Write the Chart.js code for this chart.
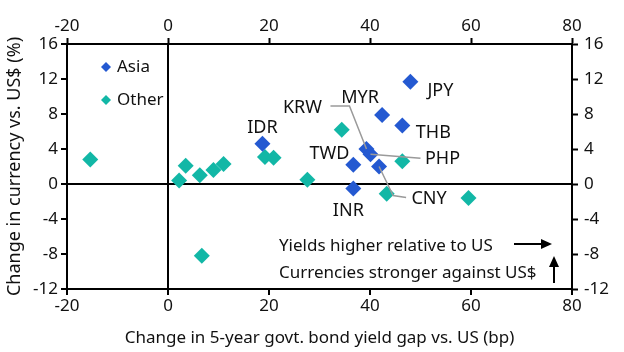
<!DOCTYPE html>
<html>
<head>
<meta charset="utf-8">
<script src="https://cdn.jsdelivr.net/npm/chart.js@4"></script>
<style>
  html, body { margin: 0; padding: 0; background: #fff; }
  #wrap { width: 624px; height: 352px; }
</style>
</head>
<body>
<div id="wrap"><canvas id="chart"></canvas></div>
<script>
// Asia: currencies with labels
let asiaNames = ['JPY', 'MYR', 'THB', 'IDR', 'KRW', 'PHP', 'TWD', 'CNY', 'INR'];
let asiaX = [48.0, 42.4, 46.4, 18.7, 39.3, 40.1, 36.7, 41.8, 36.7];
let asiaY = [11.7, 7.9, 6.7, 4.6, 4.0, 3.4, 2.2, 2.0, -0.5];

// Other (unlabelled)
let otherX = [-15.4, 2.2, 3.5, 6.3, 6.7, 9.0, 11.0, 19.2, 20.9, 27.6, 34.4, 43.3, 46.4, 59.5];
let otherY = [2.8, 0.4, 2.1, 1.0, -8.2, 1.6, 2.3, 3.1, 3.0, 0.5, 6.2, -1.1, 2.6, -1.6];

let xTicks = [-20, 0, 20, 40, 60, 80];
let yTicks = [-12, -8, -4, 0, 4, 8, 12, 16];

let blue = '#2459d1';
let teal = '#12b7a6';
let font = '"Noto Sans", "Open Sans", sans-serif';

// label offsets in pixels from the point, plus optional leader lines
let labelPos = {
  JPY: { dx: 30, dy: 9 },
  MYR: { dx: -22, dy: -17 },
  THB: { dx: 31, dy: 7 },
  IDR: { dx: 0, dy: -16 },
  TWD: { dx: -24, dy: -11 },
  INR: { dx: -5, dy: 22 },
  KRW: { dx: -64, dy: -41, line: [[-17, -43], [-36, -43]] },
  PHP: { dx: 72, dy: 5, line: [[50, 4]] },
  CNY: { dx: 50, dy: 32, line: [[14, 29], [27, 31]] }
};

let asiaData = asiaX.map((x, i) => ({ x: x, y: asiaY[i] }));
let otherData = otherX.map((x, i) => ({ x: x, y: otherY[i] }));

let labelsPlugin = {
  id: 'labelsPlugin',
  afterDatasetsDraw(chart) {
    let ctx = chart.ctx;
    let xs = chart.scales.x, ys = chart.scales.y;
    ctx.save();
    ctx.font = '18px ' + font;
    ctx.fillStyle = '#111';
    ctx.textAlign = 'center';
    ctx.textBaseline = 'middle';
    asiaNames.forEach((name, i) => {
      let px = xs.getPixelForValue(asiaX[i]);
      let py = ys.getPixelForValue(asiaY[i]);
      let p = labelPos[name];
      if (p.line) {
        ctx.strokeStyle = '#9a9a9a';
        ctx.lineWidth = 1.5;
        ctx.beginPath();
        ctx.moveTo(px, py);
        p.line.forEach(pt => ctx.lineTo(px + pt[0], py + pt[1]));
        ctx.stroke();
      }
      ctx.fillText(name, px + p.dx, py + p.dy);
    });

    // legend
    let a = chart.chartArea;
    ctx.font = '17px ' + font;
    let items = [['Asia', blue], ['Other', teal]];
    items.forEach((it, i) => {
      let lx = a.left + 39, ly = a.top + 23 + i * 33;
      ctx.fillStyle = it[1];
      ctx.beginPath();
      ctx.moveTo(lx, ly - 5);
      ctx.lineTo(lx + 5, ly);
      ctx.lineTo(lx, ly + 5);
      ctx.lineTo(lx - 5, ly);
      ctx.closePath();
      ctx.fill();
      ctx.fillStyle = '#111';
      ctx.textAlign = 'left';
      ctx.fillText(it[0], lx + 11, ly);
    });

    // direction notes
    ctx.font = '17px ' + font;
    ctx.textAlign = 'left';
    ctx.fillText('Yields higher relative to US', a.left + 212, a.top + 202);
    ctx.fillText('Currencies stronger against US$', a.left + 212, a.top + 229);
    ctx.strokeStyle = '#000';
    ctx.fillStyle = '#000';
    ctx.lineWidth = 2;
    let ax = a.left + 447, ay = a.top + 200;
    ctx.beginPath();
    ctx.moveTo(ax, ay);
    ctx.lineTo(ax + 28, ay);
    ctx.stroke();
    ctx.beginPath();
    ctx.moveTo(ax + 38, ay);
    ctx.lineTo(ax + 27, ay - 5);
    ctx.lineTo(ax + 27, ay + 5);
    ctx.closePath();
    ctx.fill();
    let ux = a.left + 487, uy = a.top + 239;
    ctx.beginPath();
    ctx.moveTo(ux, uy);
    ctx.lineTo(ux, uy - 17);
    ctx.stroke();
    ctx.beginPath();
    ctx.moveTo(ux, uy - 27);
    ctx.lineTo(ux - 5, uy - 16);
    ctx.lineTo(ux + 5, uy - 16);
    ctx.closePath();
    ctx.fill();
    ctx.restore();
  }
};

function fixed(size) {
  return function (scale) {
    if (scale.isHorizontal()) scale.height = size; else scale.width = size;
  };
}

let tickFont = { family: font, size: 17 };
let axisBorder = { display: true, color: '#000', width: 2 };
let zeroGrid = {
  color: c => (c.tick && c.tick.value === 0 ? '#000' : 'rgba(0,0,0,0)'),
  lineWidth: 2,
  tickColor: '#000',
  tickWidth: 2,
  tickLength: 6
};
let sideGrid = { drawOnChartArea: false, tickColor: '#000', tickWidth: 2, tickLength: 6 };

new Chart(document.getElementById('chart'), {
  type: 'scatter',
  data: {
    datasets: [
      { label: 'Asia', data: asiaData, backgroundColor: blue, borderColor: blue,
        pointStyle: 'rectRot', pointRadius: 8, pointHoverRadius: 8, borderWidth: 0 },
      { label: 'Other', data: otherData, backgroundColor: teal, borderColor: teal,
        pointStyle: 'rectRot', pointRadius: 8, pointHoverRadius: 8, borderWidth: 0 }
    ]
  },
  options: {
    responsive: true,
    maintainAspectRatio: false,
    animation: false,
    layout: { padding: 0 },
    plugins: { legend: { display: false }, tooltip: { enabled: false } },
    scales: {
      x: {
        type: 'linear', position: 'bottom', min: -20, max: 80,
        afterBuildTicks: s => { s.ticks = xTicks.map(v => ({ value: v })); },
        afterFit: fixed(63),
        ticks: { font: tickFont, color: '#111', padding: 1 },
        grid: zeroGrid, border: axisBorder,
        title: { display: true, text: 'Change in 5-year govt. bond yield gap vs. US (bp)',
                 font: { family: font, size: 17 }, color: '#111', padding: { top: 0 } }
      },
      x2: {
        type: 'linear', position: 'top', min: -20, max: 80,
        afterBuildTicks: s => { s.ticks = xTicks.map(v => ({ value: v })); },
        afterFit: fixed(44),
        ticks: { font: tickFont, color: '#111', padding: 2 },
        grid: sideGrid, border: axisBorder
      },
      y: {
        type: 'linear', position: 'left', min: -12, max: 16,
        afterBuildTicks: s => { s.ticks = yTicks.map(v => ({ value: v })); },
        afterFit: fixed(67),
        ticks: { font: tickFont, color: '#111', padding: 3 },
        grid: zeroGrid, border: axisBorder,
        title: { display: true, text: 'Change in currency vs. US$ (%)',
                 font: { family: font, size: 18 }, color: '#111', padding: { bottom: 0 } }
      },
      y2: {
        type: 'linear', position: 'right', min: -12, max: 16,
        afterBuildTicks: s => { s.ticks = yTicks.map(v => ({ value: v })); },
        afterFit: fixed(52),
        ticks: { font: tickFont, color: '#111', padding: 6 },
        grid: sideGrid, border: axisBorder
      }
    }
  },
  plugins: [labelsPlugin]
});
</script>
</body>
</html>
